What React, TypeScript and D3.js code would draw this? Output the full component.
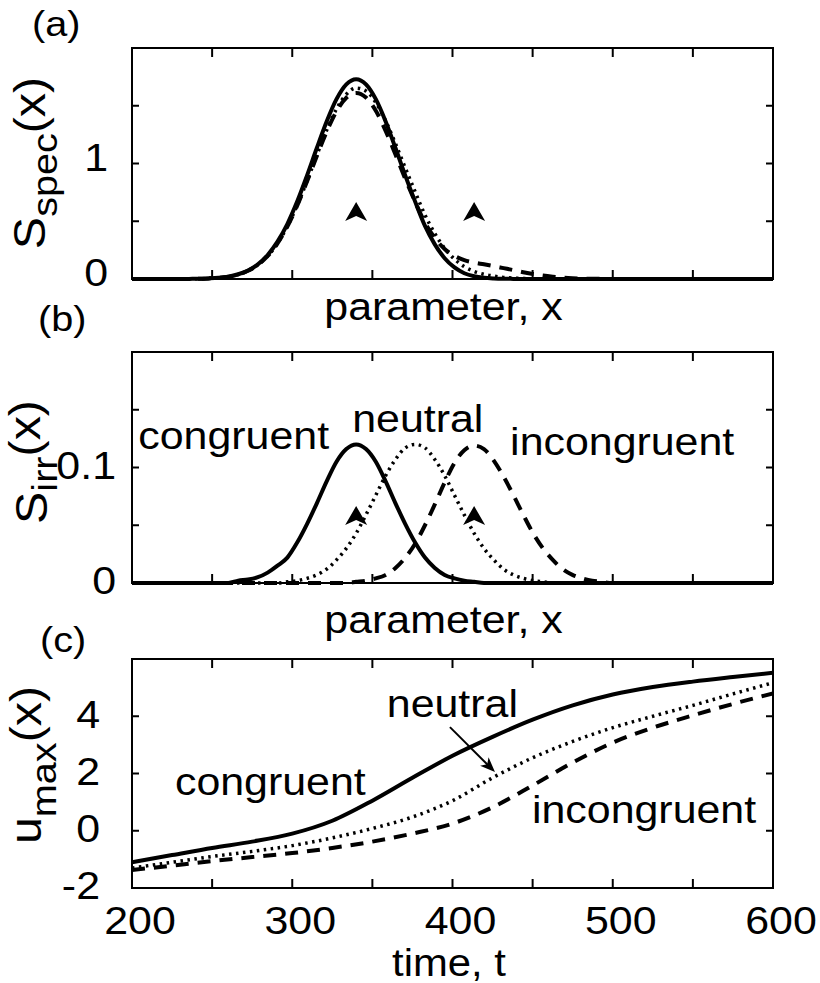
import React from 'react';
import * as d3 from 'd3';

// ---------- data ----------
const paramX = [-114, -90, -85, -80, -75, -70, -65, -60, -55, -50, -45, -40, -35, -30, -25, -20, -15, -10, -5, 0, 5, 10, 15, 20, 25, 30, 35, 40, 45, 50, 55, 60, 65, 70, 75, 80, 85, 90, 95, 100, 105, 110, 115, 120, 125, 130, 135, 212];

const specCongruent = [0, 0, 0.001, 0.002, 0.005, 0.010, 0.020, 0.041, 0.074, 0.127, 0.208, 0.323, 0.476, 0.670, 0.895, 1.134, 1.364, 1.557, 1.685, 1.730, 1.685, 1.557, 1.364, 1.134, 0.895, 0.670, 0.460, 0.300, 0.180, 0.100, 0.050, 0.024, 0.011, 0.005, 0.002, 0.001, 0, 0, 0, 0, 0, 0, 0, 0, 0, 0, 0, 0];
const specNeutral = [0, 0, 0.001, 0.002, 0.005, 0.010, 0.020, 0.039, 0.071, 0.122, 0.199, 0.308, 0.455, 0.637, 0.848, 1.072, 1.288, 1.472, 1.599, 1.653, 1.628, 1.528, 1.369, 1.172, 0.961, 0.755, 0.555, 0.394, 0.266, 0.172, 0.107, 0.066, 0.041, 0.025, 0.014, 0.008, 0.004, 0.002, 0.001, 0, 0, 0, 0, 0, 0, 0, 0, 0];
const specIncongruent = [0, 0, 0.001, 0.002, 0.005, 0.010, 0.020, 0.039, 0.071, 0.122, 0.199, 0.308, 0.454, 0.635, 0.844, 1.065, 1.276, 1.452, 1.569, 1.611, 1.571, 1.456, 1.283, 1.078, 0.866, 0.669, 0.488, 0.355, 0.260, 0.200, 0.163, 0.142, 0.127, 0.111, 0.094, 0.077, 0.059, 0.043, 0.030, 0.020, 0.012, 0.007, 0.004, 0.002, 0.001, 0, 0, 0];

const irrCongruent = [0, 0, 0, 0, 0, 0, 0, 0.002, 0.003, 0.005, 0.009, 0.015, 0.022, 0.035, 0.051, 0.069, 0.088, 0.105, 0.116, 0.120, 0.116, 0.105, 0.088, 0.069, 0.051, 0.035, 0.022, 0.013, 0.007, 0.004, 0.002, 0.001, 0, 0, 0, 0, 0, 0, 0, 0, 0, 0, 0, 0, 0, 0, 0, 0];
const irrNeutral = [0, 0, 0, 0, 0, 0, 0, 0, 0, 0, 0, 0, 0.001, 0.002, 0.004, 0.007, 0.012, 0.020, 0.030, 0.043, 0.059, 0.076, 0.093, 0.107, 0.117, 0.120, 0.117, 0.107, 0.093, 0.076, 0.059, 0.043, 0.030, 0.020, 0.012, 0.007, 0.004, 0.002, 0.001, 0, 0, 0, 0, 0, 0, 0, 0, 0];
const irrIncongruent = [0, 0, 0, 0, 0, 0, 0, 0, 0, 0, 0, 0, 0, 0, 0, 0, 0, 0, 0, 0.001, 0.002, 0.004, 0.007, 0.013, 0.022, 0.034, 0.050, 0.068, 0.087, 0.104, 0.115, 0.119, 0.116, 0.106, 0.092, 0.076, 0.059, 0.043, 0.030, 0.020, 0.012, 0.007, 0.004, 0.002, 0.001, 0, 0, 0];

const timeT = [200, 225, 250, 275, 300, 325, 350, 375, 400, 425, 450, 475, 500, 525, 550, 575, 600];
const uCongruent = [-1.10, -0.85, -0.60, -0.38, -0.10, 0.35, 1.05, 1.85, 2.62, 3.28, 3.88, 4.38, 4.76, 5.02, 5.21, 5.37, 5.52];
const uNeutral = [-1.30, -1.10, -0.90, -0.72, -0.52, -0.25, 0.08, 0.48, 1.05, 1.85, 2.55, 3.12, 3.60, 4.00, 4.38, 4.78, 5.17];
const uIncongruent = [-1.37, -1.22, -1.06, -0.92, -0.78, -0.60, -0.38, -0.10, 0.25, 0.82, 1.58, 2.38, 3.08, 3.60, 4.03, 4.43, 4.80];

const markerX = [0, 60];
const markerYA = [0.58, 0.58];
const markerYB = [0.058, 0.058];

const yTicksA = [0, 0.5, 1, 1.5, 2];
const yLabelsA = [0, 1];
const yTicksB = [0, 0.05, 0.1, 0.15, 0.2];
const yLabelsB = [0, 0.1];
const yTicksC = [-2, 0, 2, 4, 6];
const yLabelsC = [-2, 0, 2, 4];
const xTicksC = [200, 250, 300, 350, 400, 450, 500, 550, 600];
const xLabelsC = [200, 300, 400, 500, 600];
const paramTickCount = 8;

// ---------- layout ----------
const FONT = "'Liberation Sans', Arial, Helvetica, sans-serif";
const SX = 1.1;
const L = 132, R = 773;
const A = { top: 48, bottom: 279 };
const B = { top: 352, bottom: 583 };
const C = { top: 659, bottom: 888 };

const xP = d3.scaleLinear().domain([-114, 212]).range([L, R]);
const yA = d3.scaleLinear().domain([0, 2]).range([A.bottom, A.top]);
const yB = d3.scaleLinear().domain([0, 0.2]).range([B.bottom, B.top]);
const xC = d3.scaleLinear().domain([200, 600]).range([L, R]);
const yC = d3.scaleLinear().domain([-2, 6]).range([C.bottom, C.top]);

const paramTicks = d3.range(paramTickCount + 1).map(i => -114 + (i * 326) / paramTickCount);

function T({ x, y, size, anchor = 'start', rotate = 0, baseline, children }: any) {
  const tr = `translate(${x},${y})${rotate ? ` rotate(${rotate})` : ''} scale(${SX},1)`;
  return (
    <text transform={tr} fontSize={size} textAnchor={anchor} fontFamily={FONT} dominantBaseline={baseline} fill="#000">
      {children}
    </text>
  );
}

function Frame({ top, bottom, xs, xTicks, ys, yTicks }: any) {
  const xt = 9, yt = 7;
  return (
    <g stroke="#000" strokeWidth={2} fill="none">
      {xTicks.map((v: number, i: number) => (
        <g key={'x' + i}>
          <line x1={xs(v)} x2={xs(v)} y1={bottom} y2={bottom - xt} />
          <line x1={xs(v)} x2={xs(v)} y1={top} y2={top + xt} />
        </g>
      ))}
      {yTicks.map((v: number, i: number) => (
        <g key={'y' + i}>
          <line x1={L} x2={L + yt} y1={ys(v)} y2={ys(v)} />
          <line x1={R} x2={R - yt} y1={ys(v)} y2={ys(v)} />
        </g>
      ))}
      <rect x={L} y={top} width={R - L} height={bottom - top} />
    </g>
  );
}

function Curve({ xsArr, ysArr, xs, ys, style }: any) {
  const line = d3
    .line<number>()
    .x((_, i) => xs(xsArr[i]))
    .y(d => ys(d))
    .curve(d3.curveMonotoneX);
  const d = line(ysArr) || '';
  let dash: string | undefined;
  let w = 4;
  if (style === 'dot') { dash = '2.5,4.5'; w = 3.5; }
  if (style === 'dash') { dash = '13,9'; w = 4; }
  return <path d={d} fill="none" stroke="#000" strokeWidth={w} strokeDasharray={dash} strokeLinejoin="round" />;
}

function Marker({ x, y }: any) {
  return <path transform={`translate(${x},${y})`} d="M0,-10 L11,9 L0,4 L-11,9 Z" fill="#000" />;
}

export default function App() {
  const arrowFrom = [398.4, 3.62];
  const arrowTo = [426.5, 2.05];
  const ax1 = xC(arrowFrom[0]), ay1 = yC(arrowFrom[1]);
  const ax2 = xC(arrowTo[0]), ay2 = yC(arrowTo[1]);
  const rad = Math.atan2(ay2 - ay1, ax2 - ax1);
  const ang = (rad * 180) / Math.PI;

  return (
    <svg width={820} height={983} style={{ position: 'absolute', left: 0, top: 0, background: '#fff' }}>
      <rect x={0} y={0} width={820} height={983} fill="#fff" />
      <defs>
        <clipPath id="clipA"><rect x={L} y={A.top} width={R - L} height={A.bottom - A.top + 2} /></clipPath>
        <clipPath id="clipB"><rect x={L} y={B.top} width={R - L} height={B.bottom - B.top + 2} /></clipPath>
        <clipPath id="clipC"><rect x={L} y={C.top} width={R - L} height={C.bottom - C.top} /></clipPath>
      </defs>

      {/* ---------- panel (a) ---------- */}
      <T x={32} y={36} size={36}>(a)</T>
      <g clipPath="url(#clipA)">
        <Curve xsArr={paramX} ysArr={specIncongruent} xs={xP} ys={yA} style="dash" />
        <Curve xsArr={paramX} ysArr={specNeutral} xs={xP} ys={yA} style="dot" />
        <Curve xsArr={paramX} ysArr={specCongruent} xs={xP} ys={yA} style="solid" />
      </g>
      {markerX.map((m, i) => <Marker key={i} x={xP(m)} y={yA(markerYA[i])} />)}
      <Frame top={A.top} bottom={A.bottom} xs={xP} xTicks={paramTicks} ys={yA} yTicks={yTicksA} />
      {yLabelsA.map(v => <T key={v} x={108} y={yA(v) - 6} size={39} anchor="end" baseline="central">{String(v)}</T>)}
      <T x={45} y={163} size={44} anchor="middle" rotate={-90}>
        <tspan>S</tspan><tspan fontSize={36} dy={12}>spec</tspan><tspan dy={-12}>(x)</tspan>
      </T>
      <T x={443.5} y={320} size={39} anchor="middle">parameter, x</T>

      {/* ---------- panel (b) ---------- */}
      <T x={38} y={331} size={36}>(b)</T>
      <g clipPath="url(#clipB)">
        <Curve xsArr={paramX} ysArr={irrIncongruent} xs={xP} ys={yB} style="dash" />
        <Curve xsArr={paramX} ysArr={irrNeutral} xs={xP} ys={yB} style="dot" />
        <Curve xsArr={paramX} ysArr={irrCongruent} xs={xP} ys={yB} style="solid" />
      </g>
      {markerX.map((m, i) => <Marker key={i} x={xP(m)} y={yB(markerYB[i])} />)}
      <Frame top={B.top} bottom={B.bottom} xs={xP} xTicks={paramTicks} ys={yB} yTicks={yTicksB} />
      {yLabelsB.map(v => <T key={v} x={116} y={yB(v) - 2} size={39} anchor="end" baseline="central">{String(v)}</T>)}
      <T x={47} y={462} size={44} anchor="middle" rotate={-90}>
        <tspan>S</tspan><tspan fontSize={36} dy={10}>irr</tspan><tspan dy={-17}>(x)</tspan>
      </T>
      <T x={xP(-110.8)} y={yB(0.1157)} size={39}>congruent</T>
      <T x={xP(-2)} y={yB(0.131)} size={39}>neutral</T>
      <T x={xP(78.3)} y={yB(0.111)} size={39}>incongruent</T>
      <T x={443.5} y={633} size={39} anchor="middle">parameter, x</T>

      {/* ---------- panel (c) ---------- */}
      <T x={40} y={652} size={36}>(c)</T>
      <g clipPath="url(#clipC)">
        <Curve xsArr={timeT} ysArr={uIncongruent} xs={xC} ys={yC} style="dash" />
        <Curve xsArr={timeT} ysArr={uNeutral} xs={xC} ys={yC} style="dot" />
        <Curve xsArr={timeT} ysArr={uCongruent} xs={xC} ys={yC} style="solid" />
      </g>
      <Frame top={C.top} bottom={C.bottom} xs={xC} xTicks={xTicksC} ys={yC} yTicks={yTicksC} />
      {yLabelsC.map(v => <T key={v} x={100} y={yC(v) - 2} size={39} anchor="end" baseline="central">{String(v)}</T>)}
      {xLabelsC.map(v => <T key={v} x={xC(v) + 8} y={934} size={39} anchor="middle">{String(v)}</T>)}
      <T x={41} y={765} size={44} anchor="middle" rotate={-90}>
        <tspan>u</tspan><tspan fontSize={36} dy={15}>max</tspan><tspan dy={-15}>(x)</tspan>
      </T>
      <T x={xC(226.8)} y={yC(1.25)} size={39}>congruent</T>
      <T x={xC(359)} y={yC(3.97)} size={39}>neutral</T>
      <T x={xC(449.6)} y={yC(0.27)} size={39}>incongruent</T>
      <line x1={ax1} y1={ay1} x2={ax2 - 8 * Math.cos(rad)} y2={ay2 - 8 * Math.sin(rad)} stroke="#000" strokeWidth={2} />
      <path transform={`translate(${ax2},${ay2}) rotate(${ang})`} d="M0,0 L-15,-6 L-11,0 L-15,6 Z" fill="#000" />
      <T x={449} y={976} size={38} anchor="middle">time, t</T>
    </svg>
  );
}
